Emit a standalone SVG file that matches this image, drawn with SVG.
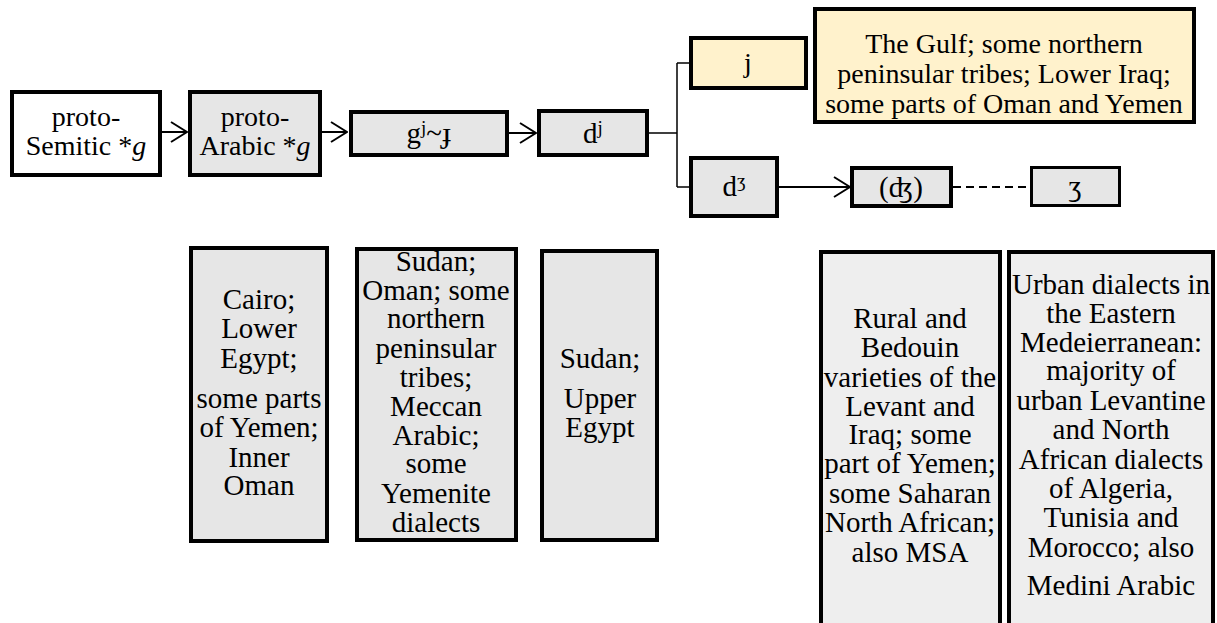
<svg xmlns="http://www.w3.org/2000/svg" width="1217" height="623" viewBox="0 0 1217 623">
  <defs>
    <style>
      .box { fill: #e6e6e6; stroke: #000; stroke-width: 4; }
      .pale { fill: #eeeeee; stroke: #000; stroke-width: 4; }
      .white { fill: #ffffff; stroke: #000; stroke-width: 4; }
      .yellow { fill: #fff2cc; stroke: #000; stroke-width: 4; }
      .thin { stroke-width: 3; }
      text { font-family: "Liberation Serif", "DejaVu Serif", serif; font-size: 28px; fill: #000; text-anchor: middle; }
      .big { font-size: 29px; }
      .ipa { font-family: "Liberation Serif", "DejaVu Serif", serif; font-size: 29px; }
      .sup { font-size: 19px; }
      .link { fill: none; stroke: #000; stroke-width: 2; }
      .tree { fill: none; stroke: #000; stroke-width: 1.5; }
      .dash { fill: none; stroke: #000; stroke-width: 2; stroke-dasharray: 8 5; }
    </style>
    <marker id="chevron" viewBox="0 0 18 22" refX="17" refY="11" markerWidth="18" markerHeight="22" markerUnits="userSpaceOnUse" orient="auto">
      <path d="M1,1 L17,11 L1,21" fill="none" stroke="#000" stroke-width="2"/>
    </marker>
  </defs>

  <!-- connectors -->
  <g id="connectors">
    <line class="link" x1="162" y1="132" x2="187" y2="132" marker-end="url(#chevron)"/>
    <line class="link" x1="322" y1="132" x2="347" y2="132" marker-end="url(#chevron)"/>
    <line class="link" x1="509" y1="133" x2="536" y2="133" marker-end="url(#chevron)"/>
    <path class="tree" d="M649,133 H677 M677,63 V187 M677,63 H689 M677,187 H689"/>
    <line class="link" x1="779" y1="187" x2="850" y2="187" marker-end="url(#chevron)"/>
    <line class="dash" x1="953" y1="187" x2="1030" y2="187"/>
  </g>

  <!-- top row -->
  <g id="proto-semitic">
    <rect class="white" x="12" y="92" width="148" height="83"/>
    <text x="86" y="126">proto-</text>
    <text x="86" y="155">Semitic *<tspan font-style="italic">g</tspan></text>
  </g>
  <g id="proto-arabic">
    <rect class="box" x="190" y="92" width="130" height="83"/>
    <text x="255" y="126">proto-</text>
    <text x="255" y="155">Arabic *<tspan font-style="italic">g</tspan></text>
  </g>
  <g id="g-palatal">
    <rect class="box" x="351" y="112" width="156" height="43"/>
    <text class="ipa" x="429" y="143">g<tspan class="sup" dy="-9">j</tspan><tspan dy="9">~ɟ</tspan></text>
  </g>
  <g id="d-palatal">
    <rect class="box" x="539" y="111" width="108" height="44"/>
    <text class="ipa" x="593" y="143">d<tspan class="sup" dy="-9">j</tspan></text>
  </g>
  <g id="j">
    <rect class="yellow" x="691" y="38" width="115" height="50"/>
    <text x="748" y="72">j</text>
  </g>
  <g id="gulf">
    <rect class="yellow" x="815" y="9" width="379" height="113"/>
    <text x="1004" y="53">The Gulf; some northern</text>
    <text x="1004" y="83">peninsular tribes; Lower Iraq;</text>
    <text x="1004" y="113">some parts of Oman and Yemen</text>
  </g>
  <g id="d-ezh">
    <rect class="box" x="691" y="158" width="86" height="58"/>
    <text class="ipa" x="734" y="196">d<tspan class="sup" dy="-9">ʒ</tspan></text>
  </g>
  <g id="dezh-affricate">
    <rect class="box" x="852" y="168" width="99" height="38"/>
    <text class="ipa" x="901" y="197">(ʤ)</text>
  </g>
  <g id="ezh">
    <rect class="box thin" x="1031.5" y="167.5" width="88" height="38"/>
    <text class="ipa" x="1075" y="196">ʒ</text>
  </g>

  <!-- bottom row -->
  <g id="cairo">
    <rect class="box" x="191" y="248" width="136" height="293"/>
    <text class="big" x="259" y="309">Cairo;</text>
    <text class="big" x="259" y="338">Lower</text>
    <text class="big" x="259" y="368">Egypt;</text>
    <text class="big" x="259" y="408">some parts</text>
    <text class="big" x="259" y="437">of Yemen;</text>
    <text class="big" x="259" y="467">Inner</text>
    <text class="big" x="259" y="495">Oman</text>
  </g>
  <g id="sudan-oman">
    <rect class="box" x="357" y="249" width="159" height="291"/>
    <text class="big" x="436" y="271">Sudan;</text>
    <text class="big" x="436" y="300">Oman; some</text>
    <text class="big" x="436" y="328">northern</text>
    <text class="big" x="436" y="358">peninsular</text>
    <text class="big" x="436" y="387">tribes;</text>
    <text class="big" x="436" y="416">Meccan</text>
    <text class="big" x="436" y="445">Arabic;</text>
    <text class="big" x="436" y="473">some</text>
    <text class="big" x="436" y="503">Yemenite</text>
    <text class="big" x="436" y="532">dialects</text>
  </g>
  <g id="upper-egypt">
    <rect class="box" x="542" y="251" width="115" height="289"/>
    <text class="big" x="600" y="368">Sudan;</text>
    <text class="big" x="600" y="408">Upper</text>
    <text class="big" x="600" y="437">Egypt</text>
  </g>
  <g id="rural-bedouin">
    <rect class="pale" x="821" y="252" width="179" height="400"/>
    <text class="big" x="910" y="328">Rural and</text>
    <text class="big" x="910" y="357">Bedouin</text>
    <text class="big" x="910" y="387">varieties of the</text>
    <text class="big" x="910" y="416">Levant and</text>
    <text class="big" x="910" y="444">Iraq; some</text>
    <text class="big" x="910" y="473">part of Yemen;</text>
    <text class="big" x="910" y="503">some Saharan</text>
    <text class="big" x="910" y="532">North African;</text>
    <text class="big" x="910" y="562">also MSA</text>
  </g>
  <g id="urban">
    <rect class="pale" x="1009" y="252" width="204" height="400"/>
    <text class="big" x="1111" y="294">Urban dialects in</text>
    <text class="big" x="1111" y="323">the Eastern</text>
    <text class="big" x="1111" y="352">Medeierranean:</text>
    <text class="big" x="1111" y="380">majority of</text>
    <text class="big" x="1111" y="410">urban Levantine</text>
    <text class="big" x="1111" y="439">and North</text>
    <text class="big" x="1111" y="469">African dialects</text>
    <text class="big" x="1111" y="498">of Algeria,</text>
    <text class="big" x="1111" y="527">Tunisia and</text>
    <text class="big" x="1111" y="557">Morocco; also</text>
    <text class="big" x="1111" y="595">Medini Arabic</text>
  </g>
</svg>
